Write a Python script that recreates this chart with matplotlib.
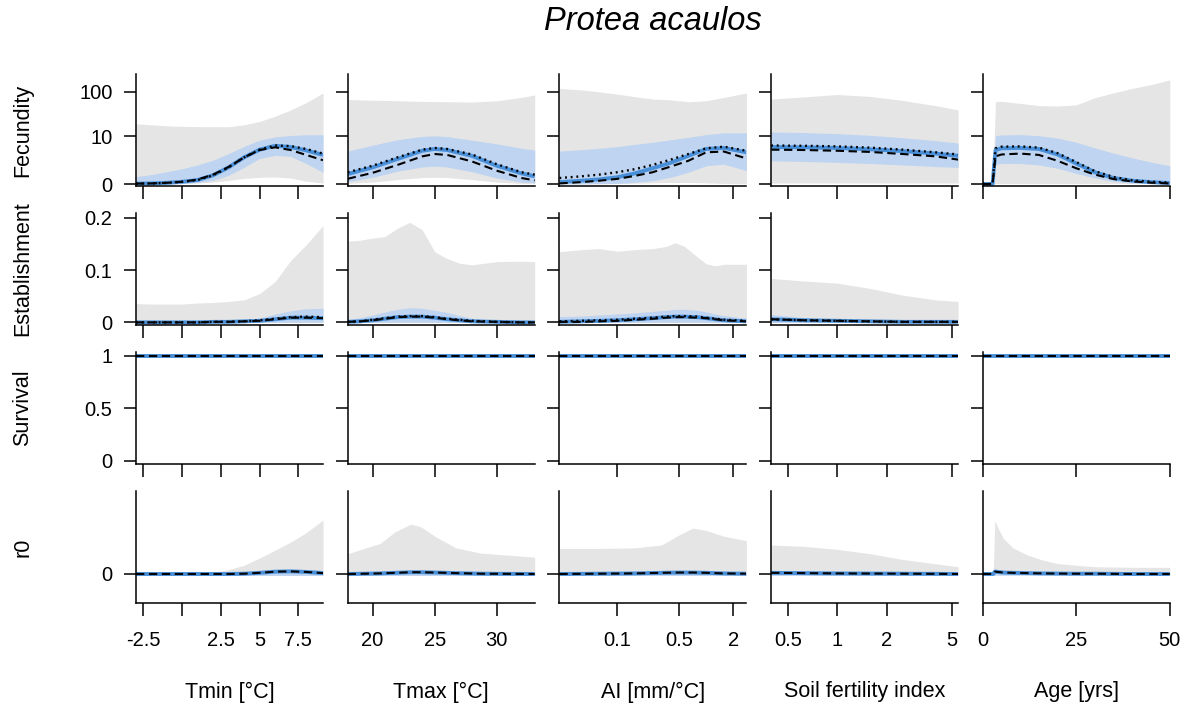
import numpy as np
import matplotlib
matplotlib.use('Agg')
import matplotlib.pyplot as plt
from matplotlib.ticker import NullLocator

plt.rcParams['font.family'] = ['Liberation Sans', 'DejaVu Sans']

GREY = '#e5e5e5'
LIGHTBLUE = '#bed4f1'
BLUE = '#4a90d9'

# ---------------- x grids per column ----------------
tmin_x = [-2.97, -2, -1, 0, 1, 2, 3, 4, 5, 6, 7, 8, 9.09]
tmax_x = [18, 20, 22, 24, 25, 26, 28, 30, 32, 33.05]
ai_x   = [0.0227, 0.04, 0.063, 0.1, 0.158, 0.25, 0.4, 0.63, 1.0, 1.58, 2.82]
soil_x = [0.396, 0.63, 1.0, 1.58, 2.51, 3.98, 5.45]
age_x  = [0, 2.6, 3.4, 5, 10, 15, 20, 25, 30, 35, 40, 45, 50]

# ---------------- Fecundity ----------------
# grey = (lower, upper), blue = (lower, upper), lines = (median, dotted, dashed)
fec_tmin_grey = ([0, 0, 0, 0.02, 0.05, 0.1, 0.2, 0.32, 0.4, 0.42, 0.35, 0.15, 0.05],
                 [19.5, 18.5, 17.5, 17, 16.8, 16.7, 16.7, 18.5, 22, 29, 40, 58, 95])
fec_tmin_blue = ([0, 0, 0, 0.02, 0.08, 0.2, 0.55, 1.3, 2.6, 3.2, 3.0, 1.8, 0.8],
                 [0.45, 0.6, 0.85, 1.15, 1.6, 2.3, 3.6, 5.6, 8.0, 9.6, 10.4, 10.8, 10.8])
fec_tmin_lines = ([0.02, 0.03, 0.06, 0.12, 0.22, 0.55, 1.3, 2.8, 4.6, 5.8, 5.4, 4.4, 3.3],
                  [0.02, 0.03, 0.06, 0.12, 0.22, 0.55, 1.3, 2.8, 4.6, 5.9, 5.7, 4.8, 3.6],
                  [0.02, 0.03, 0.06, 0.12, 0.25, 0.6, 1.35, 2.8, 4.5, 5.3, 4.5, 3.3, 2.3])

fec_tmax_grey = ([0.03, 0.1, 0.25, 0.38, 0.4, 0.38, 0.25, 0.1, 0.03, 0.02],
                 [68, 66, 64, 62, 61.5, 61, 60, 64, 76, 86])
fec_tmax_blue = ([0.12, 0.4, 0.9, 1.35, 1.45, 1.35, 0.85, 0.35, 0.1, 0.06],
                 [4.2, 6, 8.2, 9.9, 10.2, 9.8, 8.0, 6.5, 5.0, 4.5])
fec_tmax_lines = ([0.65, 1.3, 2.5, 4.3, 4.8, 4.5, 3.1, 1.5, 0.7, 0.47],
                  [0.8, 1.5, 2.8, 4.6, 5.1, 4.8, 3.4, 1.7, 0.8, 0.6],
                  [0.3, 0.75, 1.6, 3.0, 3.5, 3.3, 2.1, 0.95, 0.35, 0.2])

fec_ai_grey = ([0, 0, 0.01, 0.02, 0.04, 0.06, 0.08, 0.08, 0.06, 0.03, 0.01],
               [120, 111, 101, 90, 79, 70, 67, 61, 64, 76, 95])
fec_ai_blue = ([0, 0.01, 0.02, 0.03, 0.08, 0.18, 0.4, 0.8, 1.5, 1.7, 0.95],
               [4.2, 4.6, 5.0, 5.5, 6.3, 7.1, 8.2, 9.4, 10.9, 12.0, 12.0])
fec_ai_lines = ([0.1, 0.18, 0.26, 0.4, 0.7, 1.2, 1.9, 3.1, 4.8, 5.1, 3.9],
                [0.35, 0.47, 0.6, 0.8, 1.1, 1.6, 2.4, 3.5, 5.0, 5.5, 4.3],
                [0.03, 0.1, 0.18, 0.29, 0.5, 0.8, 1.4, 2.2, 3.9, 4.1, 2.6])

fec_soil_grey = ([0.05, 0.05, 0.05, 0.05, 0.05, 0.05, 0.05],
                 [70, 78, 88, 80, 65, 50, 40])
fec_soil_blue = ([2.2, 2.1, 1.95, 1.8, 1.6, 1.4, 1.3],
                 [12.6, 12.2, 11.5, 10.5, 9.2, 7.8, 6.8])
fec_soil_lines = ([5.4, 5.3, 5.1, 4.7, 4.2, 3.6, 3.1],
                  [5.9, 5.8, 5.6, 5.2, 4.6, 3.9, 3.4],
                  [4.6, 4.5, 4.3, 4.0, 3.5, 3.0, 2.4])

fec_age_grey = ([0, 0, 0.02, 0.02, 0.02, 0.02, 0.02, 0.02, 0.02, 0.02, 0.02, 0.02, 0.02],
                [0, 0, 62, 62, 56, 50, 49, 52, 75, 96, 120, 145, 184])
fec_age_blue = ([0, 0, 1.7, 1.8, 1.8, 1.6, 1.2, 0.7, 0.35, 0.14, 0.05, 0.02, 0.01],
                [0, 0, 10.3, 10.7, 10.9, 10.3, 9.0, 7.1, 5.1, 3.7, 2.7, 2.0, 1.5])
fec_age_lines = ([0, 0, 4.5, 5.0, 5.1, 4.8, 3.4, 1.8, 0.8, 0.35, 0.18, 0.1, 0.05],
                 [0, 0, 5.0, 5.5, 5.6, 5.2, 3.7, 2.0, 0.9, 0.42, 0.2, 0.12, 0.07],
                 [0, 0, 3.0, 3.4, 3.6, 3.3, 2.2, 1.2, 0.6, 0.28, 0.14, 0.07, 0.03])

# ---------------- Establishment ----------------
est_tmin_grey = ([0] * 13,
                 [0.036, 0.035, 0.035, 0.035, 0.037, 0.038, 0.04, 0.043, 0.055, 0.078, 0.118, 0.148, 0.185])
est_tmin_blue = ([0] * 13,
                 [0.004, 0.004, 0.004, 0.004, 0.004, 0.004, 0.004, 0.005, 0.008, 0.016, 0.022, 0.026, 0.027])
est_tmin_lines = ([0, 0, 0, 0, 0, 0.001, 0.001, 0.002, 0.003, 0.006, 0.009, 0.009, 0.008],
                  [0, 0, 0, 0, 0, 0.001, 0.001, 0.002, 0.004, 0.007, 0.010, 0.011, 0.010],
                  [0, 0, 0, 0, 0, 0.001, 0.001, 0.002, 0.003, 0.006, 0.009, 0.009, 0.008])

est_tmax_x = [18, 19, 20, 21, 22, 23, 24, 25, 26, 27, 28, 30, 32, 33.05]
est_tmax_grey = ([0] * 14,
                 [0.155, 0.157, 0.161, 0.164, 0.18, 0.191, 0.177, 0.135, 0.122, 0.113, 0.11, 0.116, 0.117, 0.116])
est_tmax_blue = ([0] * 14,
                 [0.005, 0.009, 0.014, 0.02, 0.025, 0.028, 0.027, 0.023, 0.019, 0.013, 0.008, 0.003, 0.001, 0.001])
est_tmax_lines = ([0.001, 0.002, 0.004, 0.007, 0.010, 0.011, 0.011, 0.009, 0.006, 0.004, 0.002, 0.001, 0, 0],
                  [0.001, 0.002, 0.005, 0.008, 0.011, 0.012, 0.012, 0.010, 0.007, 0.005, 0.003, 0.001, 0, 0],
                  [0.001, 0.002, 0.004, 0.007, 0.010, 0.011, 0.011, 0.009, 0.006, 0.004, 0.002, 0.001, 0, 0])

est_ai_x = [0.0227, 0.04, 0.063, 0.1, 0.158, 0.251, 0.355, 0.447, 0.562, 0.794, 1.0, 1.26, 1.58, 2.82]
est_ai_grey = ([0] * 14,
               [0.135, 0.139, 0.141, 0.136, 0.139, 0.141, 0.145, 0.152, 0.146, 0.125, 0.112, 0.108, 0.111, 0.111])
est_ai_blue = ([0] * 14,
               [0.011, 0.012, 0.014, 0.016, 0.018, 0.021, 0.023, 0.025, 0.025, 0.023, 0.020, 0.016, 0.013, 0.008])
est_ai_lines = ([0.001, 0.002, 0.003, 0.004, 0.006, 0.008, 0.010, 0.011, 0.011, 0.010, 0.008, 0.006, 0.004, 0.002],
                [0.002, 0.003, 0.004, 0.005, 0.007, 0.009, 0.011, 0.012, 0.012, 0.011, 0.009, 0.007, 0.005, 0.003],
                [0.001, 0.001, 0.002, 0.003, 0.005, 0.007, 0.009, 0.010, 0.010, 0.009, 0.008, 0.006, 0.004, 0.002])

est_soil_grey = ([0] * 7, [0.084, 0.079, 0.075, 0.065, 0.052, 0.043, 0.04])
est_soil_blue = ([0] * 7, [0.015, 0.009, 0.006, 0.004, 0.003, 0.002, 0.001])
est_soil_lines = ([0.006, 0.004, 0.003, 0.002, 0.001, 0.001, 0.001],
                  [0.006, 0.004, 0.003, 0.002, 0.001, 0.001, 0.001],
                  [0.006, 0.004, 0.003, 0.002, 0.001, 0.001, 0.001])

# ---------------- Survival (flat at 1) ----------------
surv_value = 1.0

# ---------------- r0 ----------------
r0_tmin_x = [-2.97, 0, 2, 3, 4, 5, 6, 7, 8, 9.09]
r0_tmin_grey = ([-0.04] * 10, [0.05, 0.05, 0.06, 0.15, 0.3, 0.55, 0.82, 1.1, 1.42, 1.86])
r0_tmin_blue = ([-0.05] * 10, [0.05, 0.05, 0.05, 0.05, 0.05, 0.08, 0.13, 0.17, 0.16, 0.12])
r0_tmin_lines = ([0, 0, 0, 0, 0.01, 0.04, 0.08, 0.09, 0.07, 0.03],
                 [0, 0, 0, 0, 0.01, 0.04, 0.08, 0.09, 0.07, 0.03])

r0_tmax_x = [18, 20.6, 21.8, 23.1, 23.9, 25.1, 26.7, 28.7, 33.05]
r0_tmax_grey = ([-0.04] * 9, [0.7, 1.05, 1.45, 1.72, 1.62, 1.28, 0.9, 0.72, 0.58])
r0_tmax_blue = ([-0.05] * 9, [0.05, 0.08, 0.11, 0.13, 0.13, 0.12, 0.09, 0.06, 0.05])
r0_tmax_lines = ([0, 0.02, 0.04, 0.06, 0.06, 0.05, 0.03, 0.01, 0],
                 [0, 0.02, 0.04, 0.06, 0.06, 0.05, 0.03, 0.01, 0])

r0_ai_x = [0.0227, 0.063, 0.158, 0.316, 0.5, 0.708, 1.0, 1.58, 2.82]
r0_ai_grey = ([-0.04] * 9, [0.88, 0.88, 0.9, 1.0, 1.35, 1.58, 1.5, 1.3, 1.15])
r0_ai_blue = ([-0.05] * 9, [0.05, 0.06, 0.08, 0.1, 0.12, 0.12, 0.11, 0.08, 0.06])
r0_ai_lines = ([0, 0.01, 0.02, 0.04, 0.05, 0.05, 0.04, 0.02, 0.01],
               [0, 0.01, 0.02, 0.04, 0.05, 0.05, 0.04, 0.02, 0.01])

r0_soil_grey = ([-0.04] * 7, [1.0, 0.95, 0.85, 0.7, 0.5, 0.35, 0.25])
r0_soil_blue = ([-0.05] * 7, [0.1, 0.08, 0.07, 0.06, 0.05, 0.05, 0.05])
r0_soil_lines = ([0.04, 0.03, 0.02, 0.015, 0.01, 0.005, 0],
                 [0.04, 0.03, 0.02, 0.015, 0.01, 0.005, 0])

r0_age_x = [0, 2.8, 3.2, 4, 5.5, 8, 12, 16, 20, 25, 30, 40, 50]
r0_age_grey = ([-0.03] * 13, [0, 0, 1.84, 1.6, 1.23, 0.9, 0.65, 0.48, 0.36, 0.3, 0.25, 0.23, 0.23])
r0_age_blue = ([-0.04] * 13, [0.03, 0.03, 0.2, 0.15, 0.11, 0.08, 0.06, 0.05, 0.05, 0.05, 0.05, 0.05, 0.05])
r0_age_lines = ([0, 0, 0.08, 0.07, 0.05, 0.04, 0.03, 0.02, 0.015, 0.01, 0.01, 0, 0],
                [0, 0, 0.08, 0.07, 0.05, 0.04, 0.03, 0.02, 0.015, 0.01, 0.01, 0, 0])

# ---------------- axes setup ----------------
col_titles = ['Tmin [°C]', 'Tmax [°C]', 'AI [mm/°C]', 'Soil fertility index', 'Age [yrs]']
row_titles = ['Fecundity', 'Establishment', 'Survival', 'r0']
xlims = [(-2.97, 9.09), (18, 33.05), (0.0227, 2.82), (0.396, 5.45), (0, 50)]
xlogs = [False, False, True, True, False]
xticks = [[-2.5, 0, 2.5, 5, 7.5], [20, 25, 30], [0.1, 0.5, 2], [0.5, 1, 2, 5], [0, 25, 50]]
xticklabels = [['-2.5', '', '2.5', '5', '7.5'], ['20', '25', '30'], ['0.1', '0.5', '2'],
               ['0.5', '1', '2', '5'], ['0', '25', '50']]
ylims = [(-0.095, 248), (-0.005, 0.209), (-0.031, 1.035), (-1.0, 2.86)]
yticks = [[0, 10, 100], [0, 0.1, 0.2], [0, 0.5, 1], [0]]
yticklabels = [['0', '10', '100'], ['0', '0.1', '0.2'], ['0', '0.5', '1'], ['0']]

panels = {
    (0, 0): (tmin_x, fec_tmin_grey, fec_tmin_blue, fec_tmin_lines),
    (0, 1): (tmax_x, fec_tmax_grey, fec_tmax_blue, fec_tmax_lines),
    (0, 2): (ai_x, fec_ai_grey, fec_ai_blue, fec_ai_lines),
    (0, 3): (soil_x, fec_soil_grey, fec_soil_blue, fec_soil_lines),
    (0, 4): (age_x, fec_age_grey, fec_age_blue, fec_age_lines),
    (1, 0): (tmin_x, est_tmin_grey, est_tmin_blue, est_tmin_lines),
    (1, 1): (est_tmax_x, est_tmax_grey, est_tmax_blue, est_tmax_lines),
    (1, 2): (est_ai_x, est_ai_grey, est_ai_blue, est_ai_lines),
    (1, 3): (soil_x, est_soil_grey, est_soil_blue, est_soil_lines),
    (3, 0): (r0_tmin_x, r0_tmin_grey, r0_tmin_blue, r0_tmin_lines),
    (3, 1): (r0_tmax_x, r0_tmax_grey, r0_tmax_blue, r0_tmax_lines),
    (3, 2): (r0_ai_x, r0_ai_grey, r0_ai_blue, r0_ai_lines),
    (3, 3): (soil_x, r0_soil_grey, r0_soil_blue, r0_soil_lines),
    (3, 4): (r0_age_x, r0_age_grey, r0_age_blue, r0_age_lines),
}


def fwd(v):
    return np.log10(np.maximum(1 + np.asarray(v, dtype=float), 1e-9))


def inv(t):
    return 10 ** np.asarray(t, dtype=float) - 1


W, H = 1192, 713
fig = plt.figure(figsize=(W / 100, H / 100), dpi=100)

col_left = [136 + 211.7 * c for c in range(5)]
pw, ph = 187, 112
row_top = [74 + 139 * r for r in range(4)]

for r in range(4):
    for c in range(5):
        if r == 1 and c == 4:
            continue
        ax = fig.add_axes([col_left[c] / W, 1 - (row_top[r] + ph) / H, pw / W, ph / H])
        if r == 0:
            ax.set_yscale('function', functions=(fwd, inv))
        if xlogs[c]:
            ax.set_xscale('log')

        if (r, c) in panels:
            x, grey, blue, lines = panels[(r, c)]
            ax.fill_between(x, grey[0], grey[1], color=GREY, lw=0)
            ax.fill_between(x, blue[0], blue[1], color=LIGHTBLUE, lw=0)
            ax.plot(x, lines[0], color=BLUE, lw=2.8, solid_capstyle='butt')
            if len(lines) == 3:
                ax.plot(x, lines[1], color='black', lw=1.7, dashes=(0.8, 1.6))
            ax.plot(x, lines[-1], color='black', lw=1.5, dashes=(4, 2.2))
        elif r == 2:
            xs = list(xlims[c])
            ax.fill_between(xs, [0.985, 0.985], [1.005, 1.005], color=LIGHTBLUE, lw=0)
            ax.plot(xs, [surv_value] * 2, color=BLUE, lw=2.8)
            ax.plot(xs, [surv_value] * 2, color='black', lw=1.5, dashes=(4, 2.2))

        ax.set_xlim(xlims[c])
        ax.set_ylim(ylims[r])
        ax.set_xticks(xticks[c])
        ax.xaxis.set_minor_locator(NullLocator())
        ax.yaxis.set_minor_locator(NullLocator())
        ax.set_yticks(yticks[r])
        if r == 3:
            ax.set_xticklabels(xticklabels[c])
        else:
            ax.set_xticklabels([])
        if c == 0:
            ax.set_yticklabels(yticklabels[r])
        else:
            ax.set_yticklabels([])
        for s in ['top', 'right']:
            ax.spines[s].set_visible(False)
        for s in ['left', 'bottom']:
            ax.spines[s].set_linewidth(1.1)
        ax.tick_params(direction='out', length=9, width=1.1, labelsize=14.5)
        ax.tick_params(axis='x', pad=11)
        ax.tick_params(axis='y', pad=8)
        ax.patch.set_alpha(0)

for c in range(5):
    fig.text((col_left[c] + pw / 2) / W, 1 - 692 / H, col_titles[c],
             ha='center', va='center', fontsize=15.5)
for r in range(4):
    fig.text(23 / W, 1 - (row_top[r] + ph / 2) / H, row_titles[r],
             ha='center', va='center', rotation=90, fontsize=15.5)

fig.text(653 / W, 1 - 22 / H, 'Protea acaulos', ha='center', va='center',
         fontsize=23.5, style='italic')

fig.savefig('out.png', dpi=100)
